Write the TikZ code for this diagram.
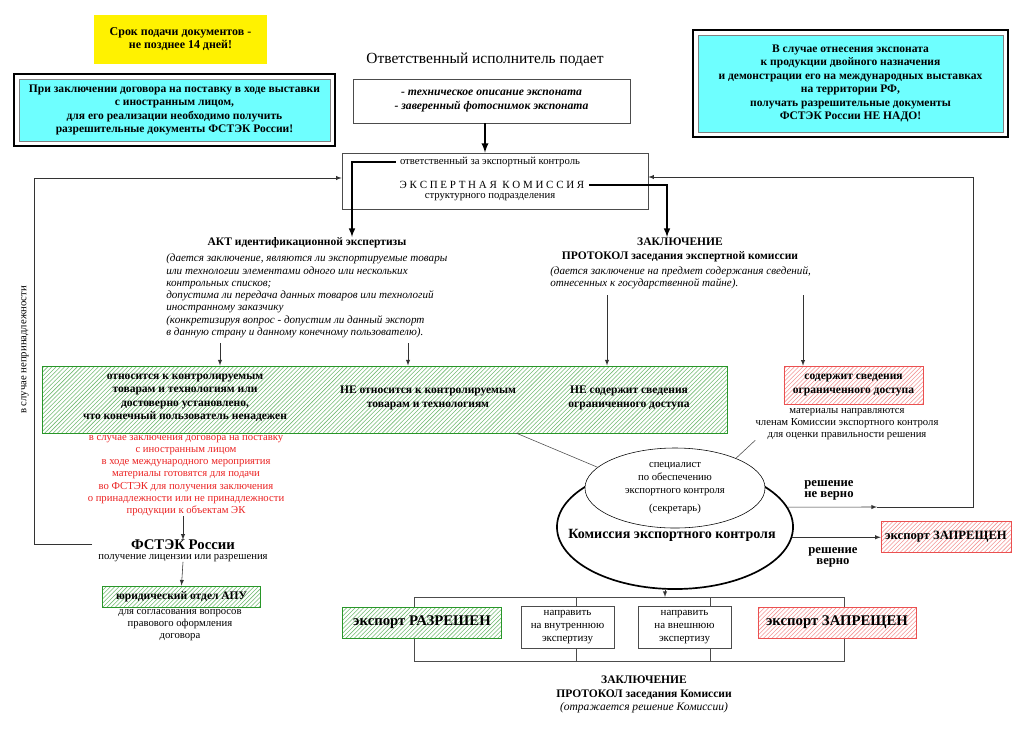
\documentclass[tikz,border=0pt]{standalone}
\usepackage{fontspec}
\setmainfont{Liberation Serif}
\usetikzlibrary{shapes,patterns,fit}

\definecolor{paleaqua}{RGB}{110,255,255}
\definecolor{hatchgreen}{RGB}{40,150,40}
\definecolor{hatchred}{RGB}{235,80,80}
\definecolor{notered}{RGB}{235,35,35}

\begin{document}
\begin{tikzpicture}[x=0.025cm,y=-0.025cm,>=latex,
	every node/.style={inner sep=0pt,align=center,font=\fontsize{7.6}{8.75}\selectfont},
	boldtxt/.style={font=\fontsize{8.2}{9.6}\selectfont\bfseries},
	bigbold/.style={font=\fontsize{10.5}{12}\selectfont\bfseries},
	ittxt/.style={align=left,font=\fontsize{7.9}{8.75}\selectfont\itshape},
	plainbox/.style={rectangle,draw=black!70},
	cyanbox/.style={rectangle,draw=gray,fill=paleaqua,boldtxt},
	outerframe/.style={rectangle,draw,line width=1.3pt,inner sep=3.5pt},
	greenhatch/.style={rectangle,draw=hatchgreen,line width=0.7pt,preaction={fill=white},
		pattern=north east lines,pattern color=hatchgreen!65},
	redhatch/.style={rectangle,draw=hatchred,preaction={fill=white},
		pattern=north east lines,pattern color=hatchred!60},
	arr/.style={->,black!80},
	thickarr/.style={->,line width=1.1pt},
	thinline/.style={black!70}]

	\fill[white] (0,0) rectangle (1024,731);
	\useasboundingbox (0,0) rectangle (1024,731);

	% notes on top
	\node[rectangle,draw=gray,double=white,double distance=0.8pt,fill=yellow,
		minimum width=4.375cm,minimum height=1.275cm,
		font=\fontsize{8.5}{9.2}\selectfont\bfseries] (deadline) at (180.5,39.5)
		{Срок подачи документов -\\не позднее 14 дней!};
	\node[cyanbox,minimum width=7.775cm,minimum height=1.55cm] (contract) at (174.5,110)
		{При заключении договора на поставку в ходе выставки\\с иностранным лицом,\\для его реализации необходимо получить\\разрешительные документы ФСТЭК России!};
	\node[outerframe,fit=(contract)] (contractframe) {};
	\node[cyanbox,minimum width=7.625cm,minimum height=2.425cm] (dualuse) at (850.5,83.5)
		{В случае отнесения экспоната\\к продукции двойного назначения\\и демонстрации его на международных выставках\\на территории РФ,\\получать разрешительные документы\\ФСТЭК России НЕ НАДО!};
	\node[outerframe,fit=(dualuse)] (dualframe) {};

	% expert commission
	\node[font=\fontsize{11}{13}\selectfont] (executor) at (485,60) {Ответственный исполнитель подает};
	\node[plainbox,minimum width=6.925cm,minimum height=1.1cm,
		font=\fontsize{8.3}{10.5}\selectfont\bfseries\itshape] (docs) at (491.5,101)
		{- техническое описание экспоната\\- заверенный фотоснимок экспоната};
	\node[plainbox,minimum width=7.65cm,minimum height=1.4cm] (expbox) at (495,181) {};
	\node[inner xsep=3pt] (resp) at (490,162) {ответственный за экспортный контроль};
	\node[inner xsep=3pt,font=\fontsize{7.8}{9}\selectfont] (expname) at (492,185)
		{Э К С П Е Р Т Н А Я\ \ К О М И С С И Я};
	\node (subdiv) at (490,197) {структурного подразделения};

	\draw[->,line width=1.3pt] (docs.south -| executor) -- (expbox.north -| executor);

	\coordinate (aktin) at (352,237);
	\coordinate (protin) at (667,237);
	\draw[thickarr] (resp.west) -| (aktin);
	\draw[thickarr] (expname.east) -| (protin);

	\node[boldtxt] (akthead) at (307,243) {АКТ идентификационной экспертизы};
	\node[ittxt,anchor=west] (aktbody) at (166,296)
		{(дается заключение, являются ли экспортируемые товары\\или технологии элементами одного или нескольких\\контрольных списков;\\допустима ли передача данных товаров или технологий\\иностранному заказчику\\(конкретизируя вопрос - допустим ли данный экспорт\\в данную страну и данному конечному пользователю).};
	\node[boldtxt] (prothead) at (680,250) {ЗАКЛЮЧЕНИЕ\\ПРОТОКОЛ заседания экспертной комиссии};
	\node[ittxt,anchor=west] (protbody) at (550,277.5)
		{(дается заключение на предмет содержания сведений,\\отнесенных к государственной тайне).};

	% results of the expertise
	\node[greenhatch,minimum width=17.1cm,minimum height=1.675cm] (verdicts) at (385,399.5) {};
	\node[boldtxt] (ctrl) at (185,398) {относится к контролируемым\\товарам и технологиям или\\достоверно установлено,\\что конечный пользователь ненадежен};
	\node[boldtxt] (notctrl) at (428,398) {НЕ относится к контролируемым\\товарам и технологиям};
	\node[boldtxt] (nosecret) at (629,398) {НЕ содержит сведения\\ограниченного доступа};
	\node[redhatch,boldtxt,minimum width=3.475cm,minimum height=0.95cm] (secret) at (853.5,385)
		{содержит сведения\\ограниченного доступа};

	\coordinate (akt1) at (220,343);
	\coordinate (akt2) at (408,343);
	\coordinate (prot1) at (607,295);
	\coordinate (prot2) at (803,295);
	\draw[arr] (akt1) -- (akt1 |- verdicts.north);
	\draw[arr] (akt2) -- (akt2 |- verdicts.north);
	\draw[arr] (prot1) -- (prot1 |- verdicts.north);
	\draw[arr] (prot2) -- (prot2 |- secret.north);

	\node (matnote) at (847,424) {материалы направляются\\членам Комиссии экспортного контроля\\для оценки правильности решения};

	% export control commission
	\node[ellipse,draw,line width=1.2pt,minimum width=5.9cm,minimum height=3.1cm] (ekc) at (675,527) {};
	\node[ellipse,draw,fill=white,minimum width=4.5cm,minimum height=2cm,
		font=\fontsize{7.6}{9.5}\selectfont] (spec) at (675,488)
		{специалист\\по обеспечению\\экспортного контроля\\[3pt](секретарь)};
	\node[font=\fontsize{10}{12}\selectfont\bfseries] (ekcname) at (672,535) {Комиссия экспортного контроля};

	\coordinate (linkstart) at (516,433);
	\draw[thinline] (linkstart) -- (spec.165);
	\draw[thinline] (matnote.south west) -- (spec.26);

	\coordinate (wrongmid) at (877,507);
	\coordinate (loopcorner) at (973,177);
	\draw[arr] (ekc.10) -- (wrongmid);
	\draw[arr] (wrongmid) -| (loopcorner) -- (loopcorner -| expbox.east);
	\node[font=\fontsize{9}{8}\selectfont\bfseries] (wrong) at (829,490) {решение\\не верно};
	\node[redhatch,font=\fontsize{9}{10}\selectfont\bfseries,minimum width=3.25cm,minimum height=0.775cm] (banright) at (946,536.5)
		{экспорт ЗАПРЕЩЕН};
	\draw[arr] (ekc.-5) -- (ekc.-5 -| banright.west);
	\node[font=\fontsize{9}{8}\selectfont\bfseries] (correct) at (833,557.5) {решение\\верно};

	% decisions
	\coordinate (bustl) at (414,597);
	\coordinate (busbr) at (844,661);
	\coordinate (bus2) at (576,597);
	\coordinate (bus3) at (710,597);
	\coordinate (busin) at (665,597);
	\draw[thinline] (bustl) rectangle (busbr);
	\draw[thinline] (bus2) -- (bus2 |- busbr);
	\draw[thinline] (bus3) -- (bus3 |- busbr);
	\draw[arr] (busin |- ekc.south) -- (busin);

	\node[greenhatch,bigbold,minimum width=3.95cm,minimum height=0.775cm] (allow) at (422,622.5) {экспорт РАЗРЕШЕН};
	\node[plainbox,fill=white,minimum width=2.325cm,minimum height=1.05cm,
		font=\fontsize{7.8}{9.2}\selectfont] (internal) at (567.5,627) {направить\\на внутреннюю\\экспертизу};
	\node[plainbox,fill=white,minimum width=2.325cm,minimum height=1.05cm,
		font=\fontsize{7.8}{9.2}\selectfont] (external) at (684.5,627) {направить\\на внешнюю\\экспертизу};
	\node[redhatch,bigbold,minimum width=3.95cm,minimum height=0.775cm] (ban) at (837,622.5) {экспорт ЗАПРЕЩЕН};
	\node[boldtxt] (final) at (644,694.5) {ЗАКЛЮЧЕНИЕ\\ПРОТОКОЛ заседания Комиссии\\{\mdseries\itshape (отражается решение Комиссии)}};

	% FSTEC branch
	\node[text=notered,font=\fontsize{7.6}{8.7}\selectfont] (redtext) at (186,475.5)
		{в случае заключения договора на поставку\\с иностранным лицом\\в ходе международного мероприятия\\материалы готовятся для подачи\\во ФСТЭК для получения заключения\\о принадлежности или не принадлежности\\продукции к объектам ЭК};
	\node[font=\fontsize{10.5}{12}\selectfont\bfseries] (fstek) at (183,545) {ФСТЭК России};
	\draw[arr] (fstek.north |- redtext.south) -- (fstek.north);
	\node (license) at (183,558) {получение лицензии или разрешения};
	\node[greenhatch,boldtxt,minimum width=3.925cm,minimum height=0.525cm] (legal) at (181.5,596.5) {юридический отдел АПУ};
	\draw[arr] (license.south) -- (legal.north);
	\node (legalnote) at (180,625) {для согласования вопросов\\правового оформления\\договора};

	\coordinate (fstekleft) at (92,544);
	\coordinate (loopleft) at (34,178);
	\draw[arr] (fstekleft) -| (loopleft) -- (loopleft -| expbox.west);
	\node[rotate=90] (notbelong) at (25,350) {в случае непринадлежности};

\end{tikzpicture}
\end{document}
